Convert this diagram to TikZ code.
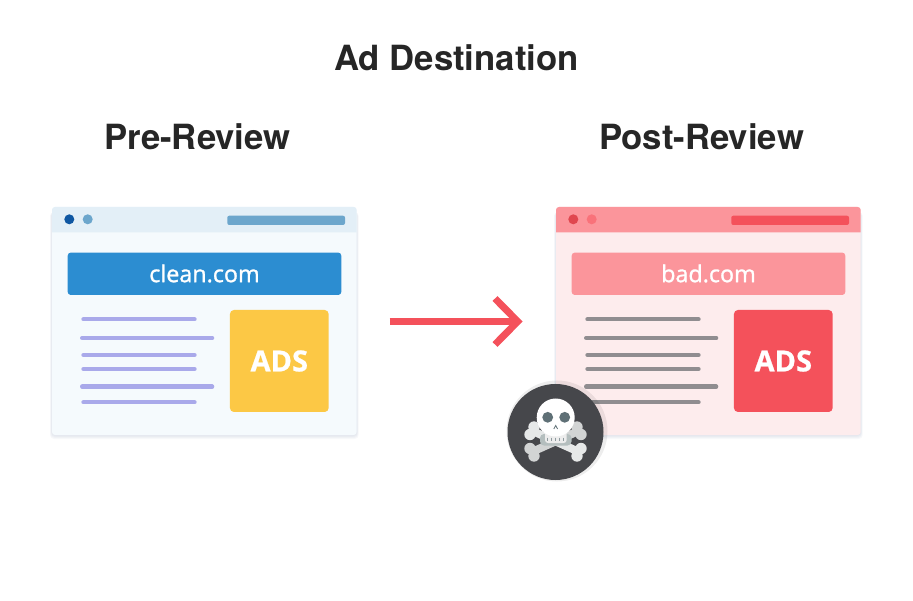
\documentclass[tikz,border=0pt]{standalone}
\usepackage{fontspec}
\setmainfont{TeX Gyre Heros}
\newfontfamily\webfont[FakeBold=1.2]{Open Sans}
\newfontfamily\adsfont[FakeBold=0.8]{Open Sans}
\definecolor{inkdark}{HTML}{262626}
\definecolor{cleanbg}{HTML}{F5FAFD}
\definecolor{cleanbar}{HTML}{E3EFF7}
\definecolor{cleandotA}{HTML}{0F57A2}
\definecolor{cleandotB}{HTML}{6CA6CC}
\definecolor{cleanurl}{HTML}{2C8DD1}
\definecolor{cleanads}{HTML}{FCC845}
\definecolor{cleanline}{HTML}{A9A9EA}
\definecolor{badbg}{HTML}{FDECED}
\definecolor{badbar}{HTML}{FB959B}
\definecolor{baddotA}{HTML}{E0474F}
\definecolor{baddotB}{HTML}{F9727A}
\definecolor{badred}{HTML}{F4515B}
\definecolor{badline}{HTML}{908D90}
\definecolor{skullbg}{HTML}{46474B}
\definecolor{skulleye}{HTML}{5F7076}
\definecolor{bonelight}{HTML}{E6E8E8}
\definecolor{bonedark}{HTML}{D2D4D4}
\definecolor{jawshade}{HTML}{B4BEBE}
\definecolor{shadowcol}{HTML}{8090B0}
\tikzset{
  heading/.style={font=\bfseries\fontsize{34.7}{35}\selectfont, text=inkdark, inner sep=0pt},
  window/.style={rounded corners=3pt, minimum width=304.7pt, minimum height=228pt, inner sep=0pt},
  urlbar/.style={rounded corners=3pt, minimum width=273.6pt, minimum height=42.3pt, inner sep=0pt, text=white,
    font=\webfont\fontsize{23.3}{23}\selectfont},
  adsbox/.style={rounded corners=4pt, minimum width=98.7pt, minimum height=102pt, inner sep=0pt, text=white,
    font=\adsfont\bfseries\fontsize{29}{29}\selectfont},
  textline/.style={line width=4.4pt, line cap=round},
  reviewarrow/.style={line width=7pt, draw=badred},
}
\begin{document}
\begin{tikzpicture}[x=1pt, y=-1pt]
  \useasboundingbox (0,0) rectangle (913,601);
  \node[heading] (title) at (456.5,58) {Ad Destination};
  \node[heading] (prehead) at (197.5,137) {Pre-Review};
  \node[heading] (posthead) at (701.5,137) {Post-Review};
  % both windows
  \foreach \dx/\nm/\bg/\barcol/\dotA/\dotB/\pill/\urlcol/\adscol/\linecol/\site in {
      0/pre/cleanbg/cleanbar/cleandotA/cleandotB/cleandotB/cleanurl/cleanads/cleanline/clean.com,
      504/post/badbg/badbar/baddotA/baddotB/badred/badbar/badred/badline/bad.com} {
    \begin{scope}[xshift=\dx pt]
      \foreach \gr in {4,3,2,1}
        \fill[shadowcol, opacity=.06, rounded corners=4pt] (52-\gr/2,212) rectangle (356.7+\gr/2,435+\gr);
      \node[window, fill=\bg] (\nm win) at (204.35,321) {};
      \fill[\barcol] (52,232.3) {[rounded corners=3pt] -- (52,207) -- (356.7,207)} -- (356.7,232.3) -- cycle;
      \fill[\dotA] (69.3,219.3) circle (5);
      \fill[\dotB] (87.7,219.3) circle (5);
      \fill[\pill, rounded corners=2pt] (227.3,215.7) rectangle (345,225);
      \node[urlbar, fill=\urlcol] (\nm url) at (204.5,273.8) {\raisebox{1pt}{\site}};
      \node[adsbox, fill=\adscol] (\nm ads) at (279.3,361) {ADS};
      \foreach \yy in {319.3,355,369,402.3}
        \draw[textline, \linecol] (83.5,\yy) -- (194.5,\yy);
      \foreach \yy in {338,386.7}
        \draw[textline, \linecol] (82.2,\yy) -- (212.1,\yy);
    \end{scope}
  }
  % arrow between the windows
  \coordinate (arrowstart) at (389.5,321.5);
  \coordinate (arrowend) at (517.7,321.5);
  \coordinate (arrowtop) at (495,298.5);
  \coordinate (arrowbot) at (495,344.5);
  \draw[reviewarrow] (arrowstart) -- (arrowend);
  \draw[reviewarrow] (arrowtop) -- (arrowend) -- (arrowbot);
  % skull badge
  \fill[black, opacity=.07] (557,431) circle (50.5);
  \fill[skullbg] (555.5,432) circle (48);
  \draw[bonedark, line width=8pt] (532.5,451.7) -- (578.5,431);
  \draw[bonelight, line width=8pt] (532.5,431) -- (578.5,451.7);
  \foreach \px/\py/\cl in {534/427/bonelight, 530/434.5/bonelight, 530/448.5/bonedark, 534/456/bonedark,
      577/427/bonedark, 581/434.5/bonedark, 581/448.5/bonelight, 577/456/bonelight}
    \fill[\cl] (\px,\py) circle (5.7);
  \fill[jawshade, rounded corners=4pt] (540,434) rectangle (571.5,445.5);
  \fill[white!93!black, rounded corners=3pt] (545,428) rectangle (566.7,443);
  \fill[white] (555.7,417.5) circle (19);
  \fill[skulleye] (547.7,417.3) circle (5.4);
  \fill[skulleye] (564.7,417.3) circle (5.4);
  \draw[skulleye, line width=.8pt] (553.8,429) -- (555.7,425.5) -- (557.6,429);
  \foreach \tx in {547.5,551.5,555.5,559.5,563.5}
    \draw[skulleye!70, line width=1.8pt] (\tx,437.5) -- (\tx,441);
\end{tikzpicture}
\end{document}
